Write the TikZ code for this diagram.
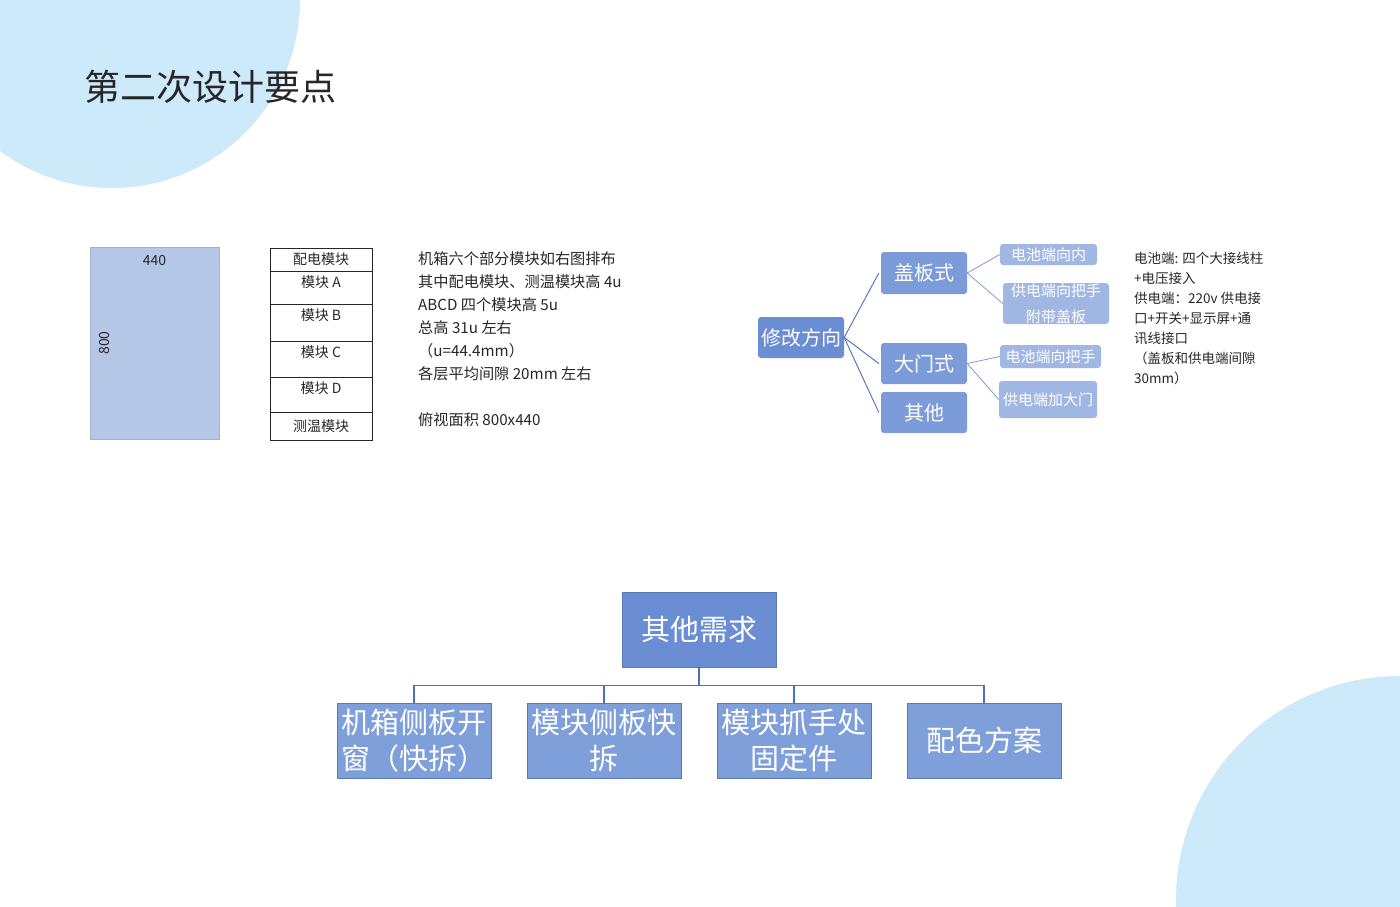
\documentclass[tikz,border=0pt]{standalone}
\usepackage{fontspec}
\setmainfont{Noto Sans CJK SC}
\usetikzlibrary{positioning, calc}
\definecolor{bgcircle}{HTML}{CCEAFA}
\definecolor{viewblue}{HTML}{B4C7E7}
\definecolor{rootblue}{HTML}{6A8DD3}
\definecolor{midblue}{HTML}{7B9CD9}
\definecolor{leafblue}{HTML}{A0B7E4}
\definecolor{kidblue}{HTML}{7F9FDA}
\definecolor{linkblue}{HTML}{4A6FC2}
\definecolor{inkgray}{HTML}{262626}

\begin{document}
\begin{tikzpicture}[
  x=1pt, y=-1pt,
  modrow/.style={draw=inkgray, line width=0.9pt, minimum width=102, inner sep=0pt,
                 font=\fontsize{14}{16}\selectfont, text=inkgray},
  modtop/.style={modrow, label={[anchor=north, inner sep=5pt, text=inkgray,
                 font=\fontsize{14}{16}\selectfont]north:#1}},
  notes/.style={anchor=north west, inner sep=0pt, align=left, text=inkgray},
  mapbox/.style={rounded corners=3pt, inner sep=0pt, align=center, text=white},
  orgbox/.style={draw=rootblue!85!black, line width=0.6pt, minimum width=154,
                 minimum height=75, inner sep=0pt, align=center, text=white,
                 font=\fontsize{29}{36}\selectfont},
  maplink/.style={draw=linkblue, line width=0.9pt},
  leaflink/.style={draw=linkblue!70, line width=0.8pt},
  orglink/.style={draw=linkblue, line width=1.1pt}
]
\useasboundingbox (0,0) rectangle (1400,906);
\begin{scope}
  \clip (0,0) rectangle (1400,906);
  \fill[bgcircle] (112,0) circle[radius=188];
  \fill[bgcircle] (1400,900) circle[radius=224];
\end{scope}
\node[anchor=west, inner sep=0pt, text=inkgray, font=\fontsize{36}{40}\selectfont]
  (title) at (84,87) {第二次设计要点};

% top view of the cabinet and its module stack
\node[fill=viewblue, draw=viewblue!90!black, line width=0.4pt,
      minimum width=129, minimum height=192, inner sep=0pt,
      label={[anchor=north, inner sep=8pt, text=inkgray, font=\fontsize{14}{16}\selectfont]north:440},
      label={[rotate=90, anchor=north, inner sep=9pt, text=inkgray, font=\fontsize{14}{16}\selectfont]west:800}]
  (topview) at (154.5,343) {};
\node[modrow, minimum height=23] (pdmod) at (321,259.5) {配电模块};
\node[modtop=模块 A, minimum height=33] (moda) at (321,287.5) {};
\node[modtop=模块 B, minimum height=37] (modb) at (321,322.5) {};
\node[modtop=模块 C, minimum height=36] (modc) at (321,359) {};
\node[modtop=模块 D, minimum height=35] (modd) at (321,394.5) {};
\node[modrow, minimum height=28] (cwmod) at (321,426) {测温模块};

\node[notes, font=\fontsize{15.2}{23}\selectfont] (layout) at (418,251)
  {机箱六个部分模块如右图排布\\其中配电模块、测温模块高 4u\\ABCD 四个模块高 5u\\总高 31u 左右\\（u=44.4mm）\\各层平均间隙 20mm 左右\\[23pt]俯视面积 800x440};

% revision directions
\node[mapbox, fill=rootblue, minimum width=86, minimum height=41,
      font=\fontsize{20}{24}\selectfont] (revise) at (801,337.5) {修改方向};
\node[mapbox, fill=midblue, minimum width=86, minimum height=42,
      font=\fontsize{20}{24}\selectfont] (cover) at (924,273) {盖板式};
\node[mapbox, fill=midblue, minimum width=86, minimum height=41,
      font=\fontsize{20}{24}\selectfont] (door) at (924,363.5) {大门式};
\node[mapbox, fill=midblue, minimum width=86, minimum height=41,
      font=\fontsize{20}{24}\selectfont] (other) at (924,412.5) {其他};
\node[mapbox, fill=leafblue, minimum width=97, minimum height=21,
      font=\fontsize{15}{18}\selectfont] (battin) at (1048.5,254.5) {电池端向内};
\node[mapbox, fill=leafblue, minimum width=106, minimum height=41,
      font=\fontsize{15}{26}\selectfont] (supcover) at (1056,303.5) {供电端向把手\\附带盖板};
\node[mapbox, fill=leafblue, minimum width=101, minimum height=23,
      font=\fontsize{15}{18}\selectfont] (batthand) at (1050.5,356.5) {电池端向把手};
\node[mapbox, fill=leafblue, minimum width=98, minimum height=37,
      font=\fontsize{15}{18}\selectfont] (supdoor) at (1048,399.5) {供电端加大门};
\draw[maplink] (revise.east) -- ([xshift=-2pt]cover.west);
\draw[maplink] (revise.east) -- ([xshift=-2pt]door.west);
\draw[maplink] (revise.east) -- ([xshift=-2pt]other.west);
\draw[leaflink] (cover.east) -- (battin.west);
\draw[leaflink] (cover.east) -- (supcover.west);
\draw[leaflink] (door.east) -- (batthand.west);
\draw[leaflink] (door.east) -- (supdoor.west);

\node[notes, font=\fontsize{13.5}{20}\selectfont] (ports) at (1134,252)
  {电池端: 四个大接线柱\\+电压接入\\供电端：220v 供电接\\口+开关+显示屏+通\\讯线接口\\（盖板和供电端间隙\\30mm）};

% other requirements
\node[orgbox, fill=rootblue] (needs) at (699,629.5) {其他需求};
\node[orgbox, fill=kidblue] (window) at (414,740.5) {机箱侧板开\\窗（快拆）};
\node[orgbox, fill=kidblue] (quick) at (604,740.5) {模块侧板快\\拆};
\node[orgbox, fill=kidblue] (grip) at (794,740.5) {模块抓手处\\固定件};
\node[orgbox, fill=kidblue] (scheme) at (984,740.5) {配色方案};
\draw[orglink] (needs.south) -- ++(0,18) coordinate (bus);
\draw[orglink] (bus -| window.north) -- (bus -| scheme.north);
\foreach \kid in {window, quick, grip, scheme}
  \draw[orglink] (bus -| \kid.north) -- (\kid.north);
\end{tikzpicture}
\end{document}
